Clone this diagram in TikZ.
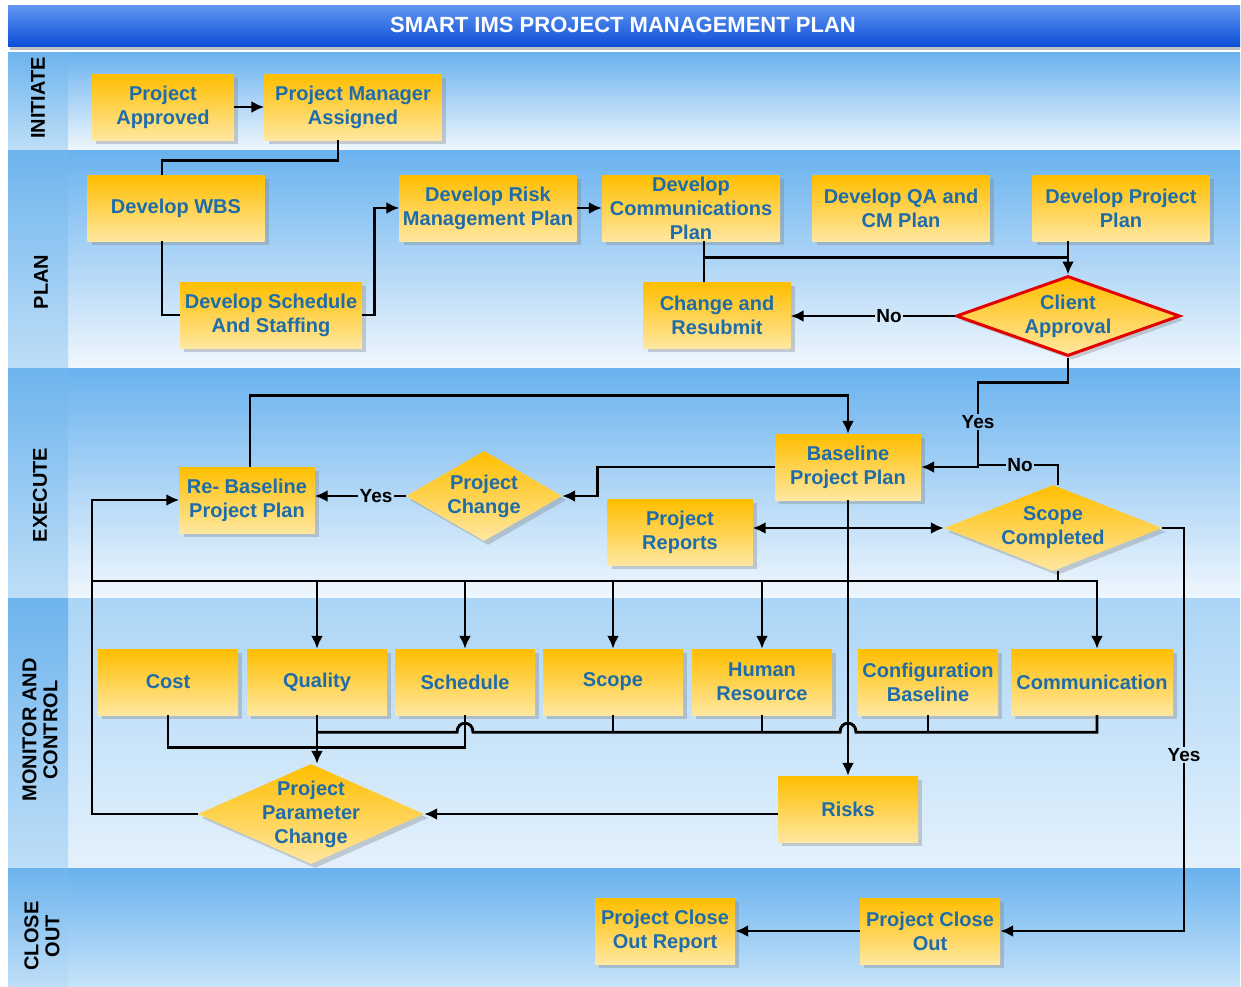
\documentclass[tikz,border=0pt]{standalone}
\usepackage{fontspec}
\setmainfont{Liberation Sans}
\usetikzlibrary{shapes.geometric,arrows.meta,shadows,calc}

\definecolor{titletop}{HTML}{6197F2}
\definecolor{titlebot}{HTML}{0D4ED6}
\definecolor{lanetop}{HTML}{69B2EF}
\definecolor{lanebot}{HTML}{F0F7FD}
\definecolor{montop}{HTML}{ABD5F6}
\definecolor{monbot}{HTML}{E4F1FC}
\definecolor{closebot}{HTML}{C6E3F9}
\definecolor{coltop}{HTML}{6DB4EE}
\definecolor{colbot}{HTML}{BEDEF7}
\definecolor{goldtop}{HTML}{FFBE00}
\definecolor{goldbot}{HTML}{FFE7A0}
\definecolor{boxtext}{HTML}{1E6CAA}

\begin{document}
\begin{tikzpicture}[x=1pt,y=-1pt,
  boxfont/.style={font=\fontsize{20}{24}\selectfont\bfseries},
  softshadow/.style={drop shadow={shadow xshift=4pt,shadow yshift=-4pt,fill=black!50,opacity=.35}},
  stepbox/.style={rectangle,inner sep=0pt,top color=goldtop,bottom color=goldbot,
    text=boxtext,align=center,boxfont,softshadow,minimum height=66pt},
  decision/.style={diamond,inner sep=0pt,top color=goldtop,bottom color=goldbot,softshadow},
  dtext/.style={inner sep=0pt,text=boxtext,align=center,boxfont},
  ln/.style={draw=black,line width=2.9pt},
  arr/.style={ln,-{Latex[length=13pt,width=12pt]}},
  flowlbl/.style={inner sep=1.5pt,font=\fontsize{19}{22}\selectfont\bfseries,text=black},
  lanelbl/.style={rotate=90,align=center,font=\fontsize{20}{21}\selectfont\bfseries,text=black}
]
\useasboundingbox (0,0) rectangle (1241,986);
\fill[white] (0,0) rectangle (1241,986);

% title bar
\fill[black!25] (10,46) rectangle (1240,50);
\shade[top color=titletop,bottom color=titlebot] (8,5) rectangle (1240,46);
\node[text=white,font=\fontsize{22}{24}\selectfont\bfseries] (title) at (623,25)
  {SMART IMS PROJECT MANAGEMENT PLAN};

% swim lanes
\shade[top color=lanetop,bottom color=lanebot] (68,52) rectangle (1240,150);
\shade[top color=lanetop,bottom color=lanebot] (68,150) rectangle (1240,368);
\shade[top color=lanetop,bottom color=lanebot] (68,368) rectangle (1240,598);
\shade[top color=montop,bottom color=monbot] (68,598) rectangle (1240,868);
\shade[top color=lanetop,bottom color=closebot] (68,868) rectangle (1240,986);
\foreach \ya/\yb in {52/150,150/368,368/598,598/868,868/986}
  \shade[top color=coltop,bottom color=colbot] (8,\ya) rectangle (68,\yb);

\node[lanelbl] (lInit) at (38,98) {INITIATE};
\node[lanelbl] (lPlan) at (41,282) {PLAN};
\node[lanelbl] (lExec) at (40,495) {EXECUTE};
\node[lanelbl] (lMon) at (40,730) {MONITOR AND\\CONTROL};
\node[lanelbl] (lClose) at (42,936) {CLOSE\\OUT};

% initiate
\node[stepbox,minimum width=142pt] (pa) at (163,107) {Project\\Approved};
\node[stepbox,minimum width=177pt] (pm) at (353,107) {Project Manager\\Assigned};

% plan
\node[stepbox,minimum width=177pt] (wbs) at (176,208) {Develop WBS};
\node[stepbox,minimum width=182pt] (dss) at (271,315) {Develop Schedule\\And Staffing};
\node[stepbox,minimum width=177pt] (drm) at (488,208) {Develop Risk\\Management Plan};
\node[stepbox,minimum width=178pt] (dcp) at (691,208) {Develop\\Communications\\Plan};
\node[stepbox,minimum width=177pt] (qa) at (901,208) {Develop QA and\\CM Plan};
\node[stepbox,minimum width=177pt] (dpp) at (1121,208) {Develop Project\\Plan};
\node[stepbox,minimum width=147pt] (cr) at (717,315) {Change and\\Resubmit};
\node[decision,draw=red!90!black,line width=3pt,minimum width=224pt,minimum height=80pt] (ca) at (1068,316) {};
\node[dtext] (caT) at (ca) {Client\\Approval};

% execute
\node[stepbox,minimum width=146pt] (bpp) at (848,467) {Baseline\\Project Plan};
\node[stepbox,minimum width=135pt] (rb) at (247,500) {Re- Baseline\\Project Plan};
\node[decision,minimum width=156pt,minimum height=90pt] (pc) at (484,496) {};
\node[dtext] (pcT) at (pc) {Project\\Change};
\node[stepbox,minimum width=145pt] (pr) at (680,532) {Project\\Reports};
\node[decision,minimum width=218pt,minimum height=86pt] (sc) at (1053,528) {};
\node[dtext] (scT) at (sc) {Scope\\Completed};

% monitor and control
\node[stepbox,minimum width=140pt] (cost) at (168,682) {Cost};
\node[stepbox,minimum width=140pt] (quality) at (317,682) {Quality};
\node[stepbox,minimum width=140pt] (schedule) at (465,682) {Schedule};
\node[stepbox,minimum width=140pt] (scope) at (613,682) {Scope};
\node[stepbox,minimum width=140pt] (hr) at (762,682) {Human\\Resource};
\node[stepbox,minimum width=140pt] (config) at (928,682) {Configuration\\Baseline};
\node[stepbox,minimum width=162pt] (comm) at (1092,682) {Communication};
\node[decision,minimum width=226pt,minimum height=100pt] (ppc) at (311,814) {};
\node[dtext] (ppcT) at (ppc) {Project\\Parameter\\Change};
\node[stepbox,minimum width=140pt] (risks) at (848,809) {Risks};

% close out
\node[stepbox,minimum width=140pt] (pco) at (930,931) {Project Close\\Out};
\node[stepbox,minimum width=140pt] (pcor) at (665,931) {Project Close\\Out Report};

% flow labels
\node[flowlbl] (no1) at (889,316) {No};
\node[flowlbl] (yes1) at (978,422) {Yes};
\node[flowlbl] (no2) at (1020,465) {No};
\node[flowlbl] (yes2) at (376,496) {Yes};
\node[flowlbl] (yes3) at (1184,755) {Yes};

% initiate and plan connectors
\draw[arr] (pa) -- (pm);
\draw[ln] ([xshift=-15pt]pm.south) -- ++(0,20) -| ([xshift=-14pt]wbs.north);
\draw[ln] ([xshift=-14pt]wbs.south) |- (dss.west);
\draw[arr] (dss.east) -- ++(12,0) |- (drm.west);
\draw[arr] (drm) -- (dcp);
\draw[ln] ([xshift=13pt]dcp.south) -- ([xshift=-13pt]cr.north);
\coordinate (j1) at ($(dcp.south)+(13,16)$);
\draw[ln] (j1) -- (j1 -| ca.north);
\draw[arr] (dpp.south -| ca.north) -- (ca.north);
\draw[ln] (ca.west) -- (no1.east);
\draw[arr] (no1.west) -- (no1.west -| cr.east);

% execute connectors
\draw[ln] (ca.south) -- ++(0,25) -| (yes1.north);
\draw[arr] (yes1.south) |- (bpp.east);
\draw[ln] ([xshift=5pt]sc.north) |- (no2.east);
\draw[ln] (no2.west) -- (no2.west -| yes1);
\draw[arr] (bpp.west) -- ++(-177,0) |- (pc.east);
\draw[ln] (pc.west) -- (yes2.east);
\draw[arr] (yes2.west) -- (yes2.west -| rb.east);
\draw[arr] ([xshift=3pt]rb.north) -- ++(0,-71) -| (bpp.north);
\draw[ln,{Latex[length=13pt,width=12pt]}-{Latex[length=13pt,width=12pt]}] (pr.east |- sc.west) -- (sc.west);

% distribution bus to the monitoring areas
\coordinate (busL) at (92,581);
\draw[ln] ([xshift=5pt]sc.south) |- (busL);
\draw[arr] ([xshift=5pt]sc.south |- busL) -| ([xshift=5pt]comm.north);
\foreach \n in {quality,schedule,scope,hr}
  \draw[arr] (\n.north |- busL) -- (\n.north);
\draw[arr] (ppc.west) -| (busL) |- (rb.west);
\draw[arr] (bpp.south) -- (risks.north);

% monitoring feedback
\draw[ln] (cost.south) -- ++(0,32) -| (schedule.south);
\draw[arr] (quality.south) -- (quality.south |- ppc.north);
\draw[ln] ($(quality.south)+(0,17)$) -- ($(schedule.south)+(-8,17)$)
  .. controls +(0,-12) and +(0,-12) .. ($(schedule.south)+(8,17)$)
  -- ($(bpp.south |- schedule.south)+(-8,17)$)
  .. controls +(0,-12) and +(0,-12) .. ($(bpp.south |- schedule.south)+(8,17)$)
  -| ([xshift=5pt]comm.south);
\foreach \n in {scope,hr,config}
  \draw[ln] (\n.south) -- ++(0,17);
\draw[arr] (risks.west |- ppc.east) -- (ppc.east);

% close out connectors
\draw[ln] (sc.east) -| (yes3.north);
\draw[arr] (yes3.south) |- (pco.east);
\draw[arr] (pco) -- (pcor);
\end{tikzpicture}
\end{document}
